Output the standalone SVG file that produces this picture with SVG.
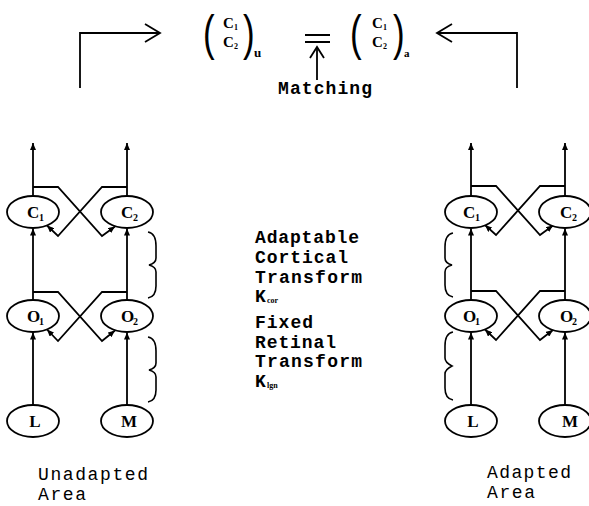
<svg xmlns="http://www.w3.org/2000/svg" width="589" height="506" viewBox="0 0 589 506">
  <style>
    .ln { fill: none; stroke: #000; stroke-width: 1.8; }
    .nd { fill: #fff; stroke: #000; stroke-width: 1.8; }
    .br { fill: none; stroke: #000; stroke-width: 1.6; }
    .lab { font-family: "Liberation Serif", "Times New Roman", serif; font-weight: bold; font-size: 17px; fill: #000; }
    .sub { font-family: "Liberation Serif", "Times New Roman", serif; font-weight: bold; font-size: 10px; fill: #000; }
    .txt { font-family: "Liberation Mono", "Courier New", monospace; font-weight: bold; font-size: 18px; fill: #000; }
    .cap { font-family: "Liberation Mono", "Courier New", monospace; font-size: 18px; fill: #000; }
    .par { font-family: "Liberation Sans", Arial, sans-serif; font-size: 50px; fill: #000; }
  </style>
  <defs>
    <marker id="tip" markerUnits="userSpaceOnUse" markerWidth="8" markerHeight="6" refX="7" refY="3" orient="auto">
      <path d="M0,0 L7,3 L0,6 z" fill="#000"/>
    </marker>
    <marker id="open" markerUnits="userSpaceOnUse" markerWidth="18" markerHeight="22" refX="16" refY="10" orient="auto">
      <path d="M1,1 L16,10 L1,19" fill="none" stroke="#000" stroke-width="1.8"/>
    </marker>
    <marker id="openSmall" markerUnits="userSpaceOnUse" markerWidth="14" markerHeight="18" refX="12" refY="8" orient="auto">
      <path d="M1,1 L12,8 L1,15" fill="none" stroke="#000" stroke-width="1.8"/>
    </marker>
  </defs>

  <!-- connectors -->
  <g id="connectors">
    <!-- feedback to comparison -->
    <path class="ln" d="M80,88 V33 H160" marker-end="url(#open)"/>
    <path class="ln" d="M517,88 V33 H437" marker-end="url(#open)"/>
    <path class="ln" d="M317,80 V47" marker-end="url(#openSmall)"/>

    <!-- unadapted area -->
    <path class="ln" d="M33,196 V143" marker-end="url(#tip)"/>
    <path class="ln" d="M127,196 V143" marker-end="url(#tip)"/>
    <path class="ln" d="M33,187 H58 L102,236 L115,226.5" marker-end="url(#tip)"/>
    <path class="ln" d="M127,187 H102 L58,236 L47,225.5" marker-end="url(#tip)"/>
    <path class="ln" d="M33,300 V228.5" marker-end="url(#tip)"/>
    <path class="ln" d="M127,300 V228.5" marker-end="url(#tip)"/>
    <path class="ln" d="M33,292 H58 L102,341 L115,330.5" marker-end="url(#tip)"/>
    <path class="ln" d="M127,292 H102 L58,341 L47,329.5" marker-end="url(#tip)"/>
    <path class="ln" d="M33,405 V332.5" marker-end="url(#tip)"/>
    <path class="ln" d="M127,405 V332.5" marker-end="url(#tip)"/>

    <!-- adapted area -->
    <path class="ln" d="M471,196 V143" marker-end="url(#tip)"/>
    <path class="ln" d="M565,196 V143" marker-end="url(#tip)"/>
    <path class="ln" d="M471,186 H496 L540,235 L553,225.5" marker-end="url(#tip)"/>
    <path class="ln" d="M565,186 H540 L496,235 L485,225" marker-end="url(#tip)"/>
    <path class="ln" d="M471,300 V228.5" marker-end="url(#tip)"/>
    <path class="ln" d="M565,300 V228.5" marker-end="url(#tip)"/>
    <path class="ln" d="M471,291 H496 L540,340 L553,330" marker-end="url(#tip)"/>
    <path class="ln" d="M565,291 H540 L496,340 L485,329.5" marker-end="url(#tip)"/>
    <path class="ln" d="M471,405 V332.5" marker-end="url(#tip)"/>
    <path class="ln" d="M565,405 V332.5" marker-end="url(#tip)"/>

    <!-- braces -->
    <path class="br" d="M148,232 C154,233 156,238 156,246 L156,258 C156,262 153,264 149,265 C153,266 156,268 156,272 L156,286 C156,293 154,297 148,298"/>
    <path class="br" d="M148,337 C154,338 156,343 156,351 L156,363 C156,367 153,369 149,370 C153,371 156,373 156,377 L156,390 C156,397 154,401 148,402"/>
    <path class="br" d="M453,233 C447,234 445,239 445,247 L445,258 C445,262 448,264 452,265 C448,266 445,268 445,272 L445,285 C445,292 447,296 453,297"/>
    <path class="br" d="M453,332 C447,333 445,338 445,346 L445,358 C445,362 448,364 452,366 C448,368 445,370 445,374 L445,388 C445,395 447,399 453,400"/>
  </g>

  <!-- comparison of the two outputs -->
  <g id="matchU">
    <text class="par" transform="translate(203,49.5) scale(0.7,1)">(</text>
    <text class="lab" x="223" y="28" style="font-size:15px">C</text>
    <text class="sub" x="234" y="30" style="font-size:8px">1</text>
    <text class="lab" x="223" y="47" style="font-size:15px">C</text>
    <text class="sub" x="234" y="49" style="font-size:8px">2</text>
    <text class="par" transform="translate(243,49.5) scale(0.7,1)">)</text>
    <text class="lab" x="254" y="57" style="font-size:13px">u</text>
  </g>
  <g id="equals">
    <path class="ln" d="M305,35 H330 M305,42 H330"/>
  </g>
  <g id="matchA">
    <text class="par" transform="translate(350,49.5) scale(0.7,1)">(</text>
    <text class="lab" x="372" y="28" style="font-size:15px">C</text>
    <text class="sub" x="383" y="30" style="font-size:8px">1</text>
    <text class="lab" x="372" y="47" style="font-size:15px">C</text>
    <text class="sub" x="383" y="49" style="font-size:8px">2</text>
    <text class="par" transform="translate(393,49.5) scale(0.7,1)">)</text>
    <text class="lab" x="404" y="57" style="font-size:11px">a</text>
  </g>
  <g id="matching">
    <text class="txt" x="278" y="94" textLength="94" lengthAdjust="spacing">Matching</text>
  </g>

  <!-- unadapted area nodes -->
  <g id="uC1"><ellipse class="nd" cx="33" cy="212" rx="26" ry="16"/><text class="lab" x="27" y="218">C</text><text class="sub" x="39" y="221">1</text></g>
  <g id="uC2"><ellipse class="nd" cx="127" cy="212" rx="26" ry="16"/><text class="lab" x="121" y="218">C</text><text class="sub" x="133" y="221">2</text></g>
  <g id="uO1"><ellipse class="nd" cx="33" cy="316" rx="26" ry="16"/><text class="lab" x="27" y="322">O</text><text class="sub" x="39" y="325">1</text></g>
  <g id="uO2"><ellipse class="nd" cx="127" cy="316" rx="26" ry="16"/><text class="lab" x="121" y="322">O</text><text class="sub" x="133" y="325">2</text></g>
  <g id="uL"><ellipse class="nd" cx="33" cy="421" rx="26" ry="16"/><text class="lab" x="35" y="427" text-anchor="middle">L</text></g>
  <g id="uM"><ellipse class="nd" cx="127" cy="421" rx="26" ry="16"/><text class="lab" x="129" y="427" text-anchor="middle">M</text></g>

  <!-- adapted area nodes -->
  <g id="aC1"><ellipse class="nd" cx="471" cy="212" rx="26" ry="16"/><text class="lab" x="463" y="218">C</text><text class="sub" x="475" y="221">1</text></g>
  <g id="aC2"><ellipse class="nd" cx="565" cy="212" rx="26" ry="16"/><text class="lab" x="560" y="218">C</text><text class="sub" x="572" y="221">2</text></g>
  <g id="aO1"><ellipse class="nd" cx="471" cy="316" rx="26" ry="16"/><text class="lab" x="463" y="322">O</text><text class="sub" x="475" y="325">1</text></g>
  <g id="aO2"><ellipse class="nd" cx="565" cy="316" rx="26" ry="16"/><text class="lab" x="560" y="322">O</text><text class="sub" x="572" y="325">2</text></g>
  <g id="aL"><ellipse class="nd" cx="471" cy="421" rx="26" ry="16"/><text class="lab" x="473" y="427" text-anchor="middle">L</text></g>
  <g id="aM"><ellipse class="nd" cx="565" cy="421" rx="26" ry="16"/><text class="lab" x="570" y="427" text-anchor="middle">M</text></g>

  <!-- transform descriptions -->
  <g id="cortical">
    <text class="txt" x="255" y="243" textLength="104" lengthAdjust="spacing">Adaptable</text>
    <text class="txt" x="255" y="263" textLength="93" lengthAdjust="spacing">Cortical</text>
    <text class="txt" x="255" y="283" textLength="107" lengthAdjust="spacing">Transform</text>
    <text class="txt" x="255" y="302">K</text>
    <text class="sub" x="267" y="303" style="font-size:8px">cor</text>
  </g>
  <g id="retinal">
    <text class="txt" x="255" y="328" textLength="58" lengthAdjust="spacing">Fixed</text>
    <text class="txt" x="255" y="348" textLength="81" lengthAdjust="spacing">Retinal</text>
    <text class="txt" x="255" y="367" textLength="107" lengthAdjust="spacing">Transform</text>
    <text class="txt" x="255" y="387">K</text>
    <text class="sub" x="267" y="388" style="font-size:8px">lgn</text>
  </g>

  <!-- area captions -->
  <g id="captions">
    <text class="cap" x="38" y="480" textLength="110" lengthAdjust="spacing">Unadapted</text>
    <text class="cap" x="38" y="500" textLength="48" lengthAdjust="spacing">Area</text>
    <text class="cap" x="487" y="478" textLength="84" lengthAdjust="spacing">Adapted</text>
    <text class="cap" x="487" y="498" textLength="48" lengthAdjust="spacing">Area</text>
  </g>
</svg>
